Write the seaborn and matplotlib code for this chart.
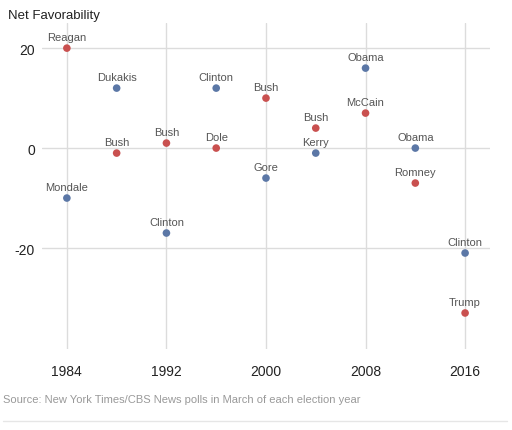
import numpy as np
import pandas as pd
import matplotlib.pyplot as plt
import seaborn as sns

# 数据
years = [1984, 1984, 1988, 1988, 1992, 1992, 1996, 1996, 2000, 2000,
         2004, 2004, 2008, 2008, 2012, 2012, 2016, 2016]
names = ['Reagan', 'Mondale', 'Dukakis', 'Bush', 'Bush', 'Clinton', 'Clinton', 'Dole',
         'Bush', 'Gore', 'Bush', 'Kerry', 'Obama', 'McCain', 'Obama', 'Romney',
         'Clinton', 'Trump']
party = ['R', 'D', 'D', 'R', 'R', 'D', 'D', 'R', 'R', 'D',
         'R', 'D', 'D', 'R', 'D', 'R', 'D', 'R']
favor = [20, -10, 12, -1, 1, -17, 12, 0, 10, -6, 4, -1, 16, 7, 0, -7, -21, -33]

x_ticks = [1984, 1992, 2000, 2008, 2016]
y_ticks = [-20, 0, 20]

df = pd.DataFrame({'year': years, 'name': names, 'party': party, 'fav': favor})

sns.set_style('white')
plt.rcParams['font.family'] = ['Liberation Sans', 'DejaVu Sans']
plt.rcParams['axes.unicode_minus'] = False

fig = plt.figure(figsize=(5.12, 4.31), dpi=100)
ax = fig.add_axes([0.082, 0.188, 0.875, 0.756])

for xv in x_ticks:
    ax.axvline(xv, color='#dcdcdc', lw=1, zorder=0)
for yv in y_ticks:
    ax.axhline(yv, color='#dcdcdc', lw=1, zorder=0)

sns.scatterplot(data=df, x='year', y='fav', hue='party',
                palette={'R': '#c9504f', 'D': '#5b77a6'},
                s=30, edgecolor='none', legend=False, ax=ax, zorder=3)

for _, r in df.iterrows():
    ax.annotate(r['name'], (r['year'], r['fav']), xytext=(0, 4.5),
                textcoords='offset points', ha='center', va='bottom',
                fontsize=8, color='#555555')

ax.set_xlim(1982, 2018)
ax.set_ylim(-40.2, 25)
ax.set_xticks(x_ticks)
ax.set_yticks(y_ticks)
ax.tick_params(length=0, labelsize=10, colors='#222222')
ax.tick_params(axis='x', pad=11)
ax.tick_params(axis='y', pad=5)
ax.set_xlabel('')
ax.set_ylabel('')
for sp in ax.spines.values():
    sp.set_visible(False)

fig.text(0.016, 0.962, 'Net Favorability', fontsize=9.5, color='#222222', va='center')
fig.text(0.006, 0.071, 'Source: New York Times/CBS News polls in March of each election year',
         fontsize=8, color='#999999', va='center')
fig.add_artist(plt.Line2D([0.006, 0.99], [0.02, 0.02], color='#e6e6e6', lw=1))

plt.savefig('out.png', dpi=100)
